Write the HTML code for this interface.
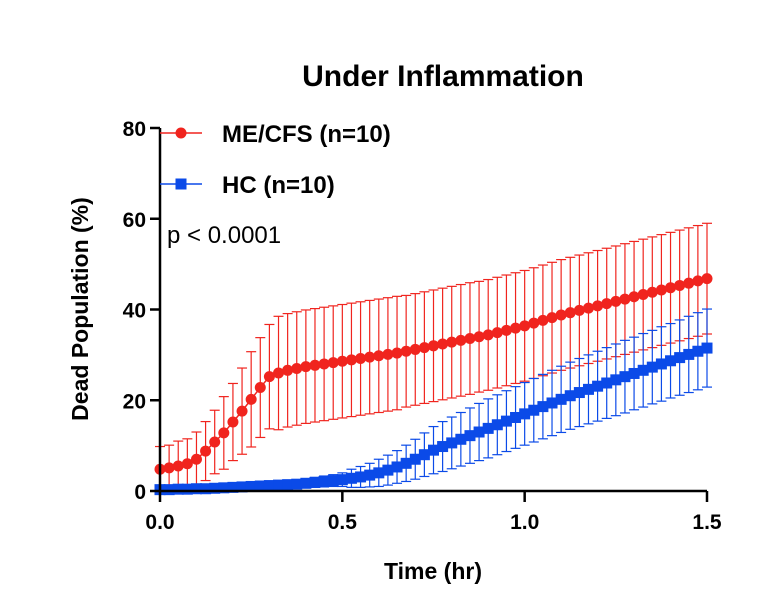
<!DOCTYPE html>
<html><head><meta charset="utf-8">
<style>
html,body{margin:0;padding:0;background:#fff;}
svg{display:block;font-family:"Liberation Sans",Arial,sans-serif;}
</style></head>
<body>
<svg id="chart" width="778" height="606" viewBox="0 0 778 606">
  <text x="443" y="86" text-anchor="middle" font-size="30" font-weight="bold">Under Inflammation</text>
  <text transform="translate(88,309) rotate(-90)" text-anchor="middle" font-size="23" font-weight="bold">Dead Population (%)</text>
  <text x="433" y="579" text-anchor="middle" font-size="23" font-weight="bold">Time (hr)</text>
  <g id="errors"></g>
  <g id="series"></g>
  <g id="axes"></g>
  <g>
    <g>
      <line x1="160" y1="133" x2="202" y2="133" stroke="#f0241e" stroke-width="1.5"/>
      <circle cx="181" cy="133" r="5.5" fill="#f0241e"/>
      <text x="222" y="142" font-size="24" font-weight="bold">ME/CFS (n=10)</text>
    </g>
    <g>
      <line x1="160" y1="184" x2="202" y2="184" stroke="#0b4ae8" stroke-width="1.5"/>
      <rect x="175.5" y="178.5" width="11" height="11" fill="#0b4ae8"/>
      <text x="222" y="193" font-size="24" font-weight="bold">HC (n=10)</text>
    </g>
  </g>
  <text x="167" y="243" font-size="24">p &lt; 0.0001</text>
</svg>
<script>
const times = [];
for (let i = 0; i <= 60; i++) times.push(i * 0.025);
const mecfsMean = [4.8,5.1,5.5,6.0,7.0,8.8,10.8,12.8,15.2,17.6,20.2,22.8,25.2,26.0,26.6,27.0,27.4,27.7,28.0,28.3,28.6,28.9,29.2,29.5,29.8,30.1,30.4,30.8,31.2,31.6,32.0,32.4,32.8,33.2,33.6,34.0,34.4,34.9,35.4,35.9,36.4,37.0,37.6,38.2,38.8,39.3,39.8,40.3,40.8,41.3,41.8,42.3,42.8,43.3,43.8,44.3,44.8,45.3,45.8,46.3,46.8];
const mecfsErr = [5,5,5.5,5.5,6,6.5,7,8,8.5,9.5,10.5,11,11.5,12.5,12.5,12.5,12.5,12.5,12.5,12.5,12.5,12.5,12.5,12.5,12.5,12.5,12.5,12.3,12.3,12.3,12.3,12.3,12.3,12.3,12.3,12.2,12.2,12.2,12.2,12.2,12.2,12.2,12.2,12.2,12.2,12.2,12.2,12.2,12.2,12.2,12.2,12.2,12.2,12.2,12.2,12.2,12.2,12.2,12.2,12.2,12.2];
const hcMean = [0.3,0.3,0.4,0.4,0.5,0.5,0.6,0.7,0.8,0.9,1.0,1.1,1.2,1.3,1.4,1.5,1.7,1.9,2.1,2.3,2.5,2.8,3.1,3.5,4.0,4.6,5.3,6.1,7.0,8.0,9.0,9.8,10.6,11.4,12.2,13.0,13.8,14.6,15.4,16.2,17.0,17.8,18.6,19.4,20.2,21.0,21.7,22.4,23.1,23.8,24.5,25.2,25.9,26.6,27.3,28.0,28.7,29.4,30.1,30.8,31.5];
const hcErr = [0.5,0.5,0.5,0.5,0.6,0.6,0.6,0.7,0.7,0.7,0.8,0.8,0.8,0.9,0.9,1.0,1.0,1.1,1.2,1.3,1.5,2.0,2.3,2.6,3.0,3.3,3.6,4.0,4.4,4.8,5.2,5.5,5.7,5.9,6.1,6.3,6.5,6.6,6.7,6.8,6.9,7.0,7.1,7.2,7.3,7.4,7.5,7.6,7.7,7.8,7.9,8.0,8.0,8.1,8.1,8.2,8.2,8.3,8.4,8.5,8.6];
const yTicks = [0,20,40,60,80];
const xTicks = [0,0.5,1.0,1.5];
const xTickLabels = ["0.0","0.5","1.0","1.5"];

const X0=160, X1=707, Y0=491, Y1=128;
const xs = t => X0 + (t/1.5)*(X1-X0);
const ys = v => Y0 - (v/80)*(Y0-Y1);
const NS="http://www.w3.org/2000/svg";
function mk(tag, attrs, parent){const e=document.createElementNS(NS,tag);for(const k in attrs)e.setAttribute(k,attrs[k]);parent.appendChild(e);return e;}

const axes=document.getElementById('axes');
let yl=mk('line',{x1:X0,y1:Y1,x2:X0,y2:Y0,stroke:'#000','stroke-width':2.5},axes);


let xl=mk('line',{x1:X0,y1:Y0,x2:X1,y2:Y0,stroke:'#000','stroke-width':2.5},axes);


yTicks.forEach(v=>{
  mk('line',{x1:X0-10,y1:ys(v),x2:X0,y2:ys(v),stroke:'#000','stroke-width':2.5},axes);
  const t=mk('text',{x:X0-14,y:ys(v)+8,'text-anchor':'end','font-size':21,'font-weight':'bold'},axes);
  t.textContent=v;
  
  
});
xTicks.forEach((v,i)=>{
  mk('line',{x1:xs(v),y1:Y0,x2:xs(v),y2:Y0+11,stroke:'#000','stroke-width':2.5},axes);
  const t=mk('text',{x:xs(v),y:Y0+38,'text-anchor':'middle','font-size':21,'font-weight':'bold'},axes);
  t.textContent=xTickLabels[i];
  
  
});

const eg=document.getElementById('errors'), sg=document.getElementById('series');
function drawSeries(mean, err, color, shape, name){
  const ge=mk('g',{stroke:color,'stroke-width':1.2,fill:'none'},eg);
  
  
  times.forEach((t,i)=>{
    const x=xs(t), yu=ys(mean[i]+err[i]), yd=ys(Math.max(0,mean[i]-err[i]));
    mk('line',{x1:x,y1:yu,x2:x,y2:yd},ge);
    mk('line',{x1:x-5,y1:yu,x2:x+5,y2:yu},ge);
    mk('line',{x1:x-5,y1:yd,x2:x+5,y2:yd},ge);
  });
  const gs=mk('g',{fill:color},sg);
  
  
  mk('polyline',{points:times.map((t,i)=>xs(t)+','+ys(mean[i])).join(' '),stroke:color,'stroke-width':1.5,fill:'none'},gs);
  times.forEach((t,i)=>{
    let m;
    if(shape==='circle') m=mk('circle',{cx:xs(t),cy:ys(mean[i]),r:5.5},gs);
    else m=mk('rect',{x:xs(t)-5.5,y:ys(mean[i])-5.5,width:11,height:11},gs);
    
    
  });
}
drawSeries(mecfsMean, mecfsErr, '#f0241e', 'circle', 'mecfs');
drawSeries(hcMean, hcErr, '#0b4ae8', 'square', 'hc');
</script>
</body></html>
